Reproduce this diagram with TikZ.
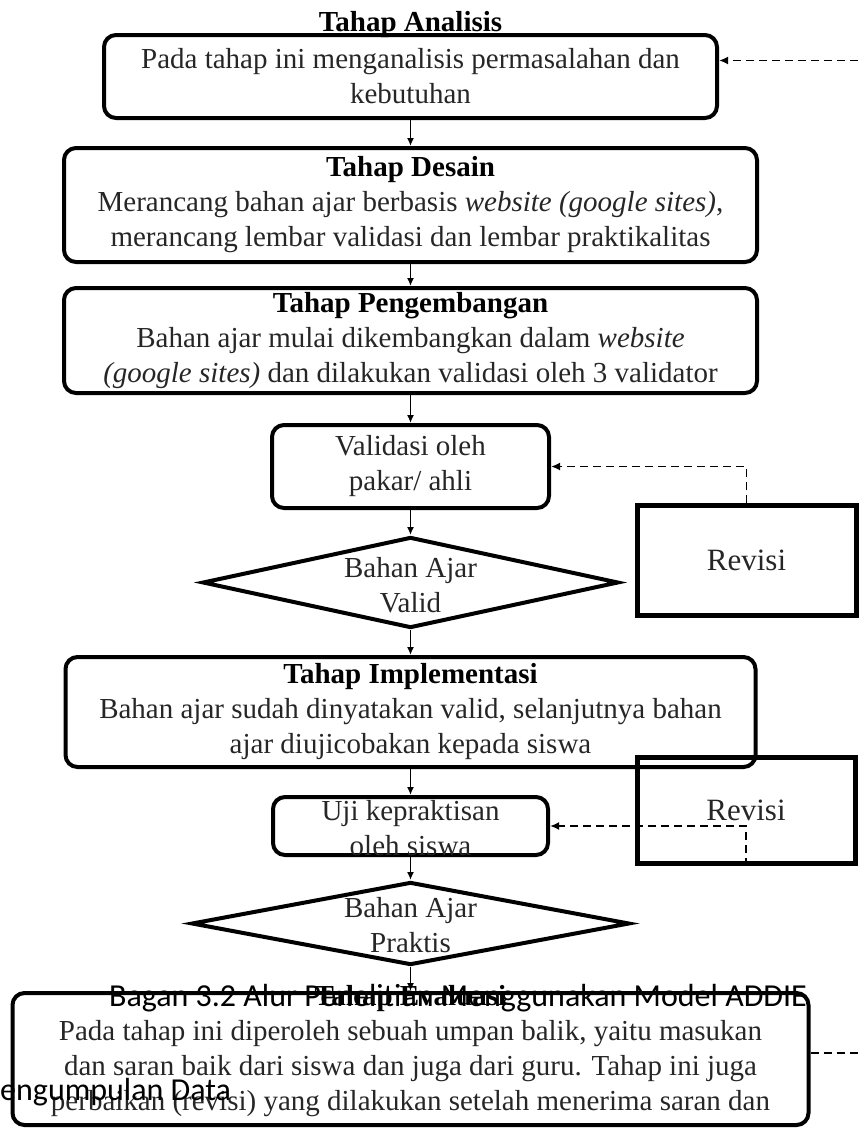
\documentclass[tikz,border=0pt]{standalone}
\usepackage{fontspec}
\setmainfont{Liberation Serif}
\newfontfamily\capfont{Carlito}
\usepackage{tikz}
\usetikzlibrary{
  arrows.meta,
  positioning,
  shapes.geometric
}

\begin{document}
\begin{tikzpicture}[x=1pt, y=-1pt,
  box/.style={draw, line width=4pt, rounded corners=12pt, inner sep=0pt, align=center,
    font=\fontsize{29}{35}\selectfont, text=black!85},
  dec/.style={draw, diamond, line width=4pt, inner sep=0pt},
  revbox/.style={draw, line width=5pt, inner sep=0pt, font=\fontsize{31}{35}\selectfont, text=black!85},
  txt/.style={align=center, inner sep=0pt, font=\fontsize{29}{35}\selectfont, text=black!85},
  ttl/.style={inner sep=0pt, font=\fontsize{29}{35}\selectfont\bfseries},
  side/.style={inner sep=0pt, font=\capfont\fontsize{32}{35}\selectfont},
  arrow/.style={-{Latex[length=8pt, width=7pt]}, line width=1.8pt},
  back/.style={-{Latex[length=9pt, width=8pt]}, line width=1.8pt, dash pattern=on 8pt off 5pt}
]
\useasboundingbox (0,0) rectangle (860,1130);
\clip (0,0) rectangle (860,1130);

% main column
\node[box, minimum width=613pt, minimum height=83pt] (ana) at (410.5,76.5)
  {Pada tahap ini menganalisis permasalahan dan\\kebutuhan};
\node[ttl] (anaT) at ([yshift=8pt]ana.north) {Tahap Analisis};

\node[box, minimum width=693pt, minimum height=114pt, below=26pt of ana] (dsn)
  {\textbf{\color{black}Tahap Desain}\\Merancang bahan ajar berbasis \textit{website (google sites)},\\merancang lembar validasi dan lembar praktikalitas};
\node[box, minimum width=693pt, minimum height=105pt, below=22pt of dsn] (pgb)
  {\textbf{\color{black}Tahap Pengembangan}\\Bahan ajar mulai dikembangkan dalam \textit{website}\\\textit{(google sites)} dan dilakukan validasi oleh 3 validator};
\node[box, minimum width=277pt, minimum height=83pt, below=28pt of pgb] (vld)
  {Validasi oleh\\pakar/ ahli};
\node[dec, minimum width=416pt, minimum height=91pt, below=25pt of vld] (val) {};
\node[txt] (valT) at ([yshift=-2.5pt]val.center) {Bahan Ajar\\Valid};

\node[box, minimum width=690pt, minimum height=110pt, below=25pt of val] (imp)
  {\textbf{\color{black}Tahap Implementasi}\\Bahan ajar sudah dinyatakan valid, selanjutnya bahan\\ajar diujicobakan kepada siswa};
\node[box, minimum width=275pt, minimum height=58pt, below=26pt of imp] (uji) {};
\node[txt] (ujiT) at ([yshift=-2.5pt]uji.center) {Uji kepraktisan\\oleh siswa};
\node[dec, minimum width=438pt, minimum height=83pt, below=23pt of uji] (prk) {};
\node[txt] (prkT) at ([yshift=-1.5pt]prk.center) {Bahan Ajar\\Praktis};

\node[box, minimum width=796pt, minimum height=132pt, below=24pt of prk] (eva) {};
\node[txt] (evaT) at ([yshift=8pt]eva.center)
  {\textbf{\color{black}Tahap Evaluasi}\\Pada tahap ini diperoleh sebuah umpan balik, yaitu masukan\\dan saran baik dari siswa dan juga dari guru. Tahap ini juga\\perbaikan (revisi) yang dilakukan setelah menerima saran dan};

% revisi boxes
\node[revbox, minimum width=219pt, minimum height=110pt] (rev1) at (746.5,560) {Revisi};
\node[revbox, minimum width=218pt, minimum height=106pt] (rev2) at (746,810) {Revisi};

\draw[arrow] (ana) -- (dsn);
\draw[arrow] (dsn) -- (pgb);
\draw[arrow] (pgb) -- (vld);
\draw[arrow] (vld) -- (val);
\draw[arrow] (val) -- (imp);
\draw[arrow] (imp) -- (uji);
\draw[arrow] (uji) -- (prk);
\draw[arrow] (prk) -- (eva);

\draw[back] (rev1.north) |- (vld.east);
\draw[back] (rev2.south) |- (uji.east);
\draw[back] ([yshift=6pt]eva.east) -- ++(80,0) |- ([yshift=16pt]ana.east);

% caption text lying over the chart
\node[side] (cap) at (458,998) {Bagan 3.2 Alur Penelitian Menggunakan Model ADDIE};
\node[side, anchor=west] (sec) at (0,1092) {engumpulan Data};
\end{tikzpicture}
\end{document}
